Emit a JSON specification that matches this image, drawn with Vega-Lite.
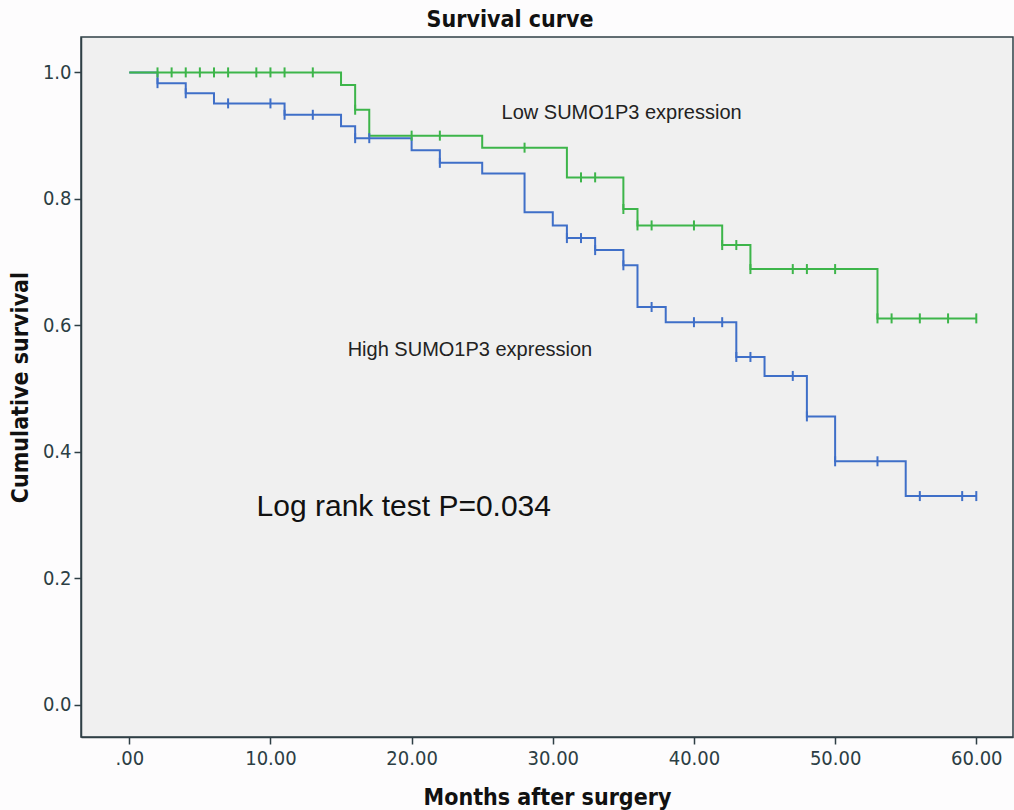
{
  "$schema": "https://vega.github.io/schema/vega-lite/v6.json",
  "width": 932,
  "height": 700,
  "autosize": {"type": "none"},
  "padding": {"left": 81, "top": 37, "right": 1, "bottom": 73},
  "background": "#fdfcfd",
  "title": {
    "text": "Survival curve",
    "font": "DejaVu Sans Condensed, Liberation Sans, sans-serif",
    "fontSize": 23,
    "fontWeight": "bold",
    "color": "#111111",
    "anchor": "middle",
    "dx": -37,
    "offset": 5
  },
  "config": {
    "view": {"fill": "#f0f0f0", "stroke": "#2f3f45", "strokeWidth": 1.5},
    "axis": {
      "grid": false,
      "domainColor": "#2f3f45",
      "domainWidth": 1.5,
      "tickColor": "#2f3f45",
      "tickWidth": 1.5,
      "tickSize": 7,
      "labelFont": "DejaVu Sans Condensed, Liberation Sans, sans-serif",
      "labelFontSize": 20,
      "labelColor": "#2c3e44",
      "titleFont": "DejaVu Sans Condensed, Liberation Sans, sans-serif",
      "titleFontSize": 23,
      "titleFontWeight": "bold",
      "titleColor": "#111111"
    }
  },
  "datasets": {
    "curve": [
      {"group": "High", "month": 0, "survival": 1.0},
      {"group": "High", "month": 2, "survival": 0.983},
      {"group": "High", "month": 4, "survival": 0.967},
      {"group": "High", "month": 6, "survival": 0.951},
      {"group": "High", "month": 11, "survival": 0.933},
      {"group": "High", "month": 15, "survival": 0.915},
      {"group": "High", "month": 16, "survival": 0.896},
      {"group": "High", "month": 20, "survival": 0.877},
      {"group": "High", "month": 22, "survival": 0.857},
      {"group": "High", "month": 25, "survival": 0.840},
      {"group": "High", "month": 28, "survival": 0.779},
      {"group": "High", "month": 30, "survival": 0.758},
      {"group": "High", "month": 31, "survival": 0.738},
      {"group": "High", "month": 33, "survival": 0.719},
      {"group": "High", "month": 35, "survival": 0.695},
      {"group": "High", "month": 36, "survival": 0.629},
      {"group": "High", "month": 38, "survival": 0.605},
      {"group": "High", "month": 43, "survival": 0.550},
      {"group": "High", "month": 45, "survival": 0.520},
      {"group": "High", "month": 48, "survival": 0.456},
      {"group": "High", "month": 50, "survival": 0.385},
      {"group": "High", "month": 55, "survival": 0.330},
      {"group": "High", "month": 60, "survival": 0.330},
      {"group": "Low", "month": 0, "survival": 1.0},
      {"group": "Low", "month": 15, "survival": 0.980},
      {"group": "Low", "month": 16, "survival": 0.941},
      {"group": "Low", "month": 17, "survival": 0.900},
      {"group": "Low", "month": 25, "survival": 0.881},
      {"group": "Low", "month": 31, "survival": 0.834},
      {"group": "Low", "month": 35, "survival": 0.784},
      {"group": "Low", "month": 36, "survival": 0.758},
      {"group": "Low", "month": 42, "survival": 0.727},
      {"group": "Low", "month": 44, "survival": 0.689},
      {"group": "Low", "month": 53, "survival": 0.611},
      {"group": "Low", "month": 60, "survival": 0.611}
    ],
    "censor": [
      {"group": "High", "month": 2, "survival": 0.983},
      {"group": "High", "month": 4, "survival": 0.967},
      {"group": "High", "month": 7, "survival": 0.951},
      {"group": "High", "month": 10, "survival": 0.951},
      {"group": "High", "month": 11, "survival": 0.933},
      {"group": "High", "month": 13, "survival": 0.933},
      {"group": "High", "month": 16, "survival": 0.896},
      {"group": "High", "month": 17, "survival": 0.896},
      {"group": "High", "month": 22, "survival": 0.857},
      {"group": "High", "month": 31, "survival": 0.738},
      {"group": "High", "month": 32, "survival": 0.738},
      {"group": "High", "month": 33, "survival": 0.719},
      {"group": "High", "month": 35, "survival": 0.695},
      {"group": "High", "month": 37, "survival": 0.629},
      {"group": "High", "month": 40, "survival": 0.605},
      {"group": "High", "month": 42, "survival": 0.605},
      {"group": "High", "month": 43, "survival": 0.550},
      {"group": "High", "month": 44, "survival": 0.550},
      {"group": "High", "month": 47, "survival": 0.520},
      {"group": "High", "month": 48, "survival": 0.456},
      {"group": "High", "month": 50, "survival": 0.385},
      {"group": "High", "month": 53, "survival": 0.385},
      {"group": "High", "month": 56, "survival": 0.330},
      {"group": "High", "month": 59, "survival": 0.330},
      {"group": "High", "month": 60, "survival": 0.330},
      {"group": "Low", "month": 2, "survival": 1.0},
      {"group": "Low", "month": 3, "survival": 1.0},
      {"group": "Low", "month": 4, "survival": 1.0},
      {"group": "Low", "month": 5, "survival": 1.0},
      {"group": "Low", "month": 6, "survival": 1.0},
      {"group": "Low", "month": 7, "survival": 1.0},
      {"group": "Low", "month": 9, "survival": 1.0},
      {"group": "Low", "month": 10, "survival": 1.0},
      {"group": "Low", "month": 11, "survival": 1.0},
      {"group": "Low", "month": 13, "survival": 1.0},
      {"group": "Low", "month": 16, "survival": 0.941},
      {"group": "Low", "month": 20, "survival": 0.900},
      {"group": "Low", "month": 22, "survival": 0.900},
      {"group": "Low", "month": 28, "survival": 0.881},
      {"group": "Low", "month": 32, "survival": 0.834},
      {"group": "Low", "month": 33, "survival": 0.834},
      {"group": "Low", "month": 35, "survival": 0.784},
      {"group": "Low", "month": 36, "survival": 0.758},
      {"group": "Low", "month": 37, "survival": 0.758},
      {"group": "Low", "month": 40, "survival": 0.758},
      {"group": "Low", "month": 42, "survival": 0.727},
      {"group": "Low", "month": 43, "survival": 0.727},
      {"group": "Low", "month": 44, "survival": 0.689},
      {"group": "Low", "month": 47, "survival": 0.689},
      {"group": "Low", "month": 48, "survival": 0.689},
      {"group": "Low", "month": 50, "survival": 0.689},
      {"group": "Low", "month": 53, "survival": 0.611},
      {"group": "Low", "month": 54, "survival": 0.611},
      {"group": "Low", "month": 56, "survival": 0.611},
      {"group": "Low", "month": 58, "survival": 0.611},
      {"group": "Low", "month": 60, "survival": 0.611}
    ],
    "notes": [
      {"label": "Low SUMO1P3 expression"},
      {"label": "High SUMO1P3 expression"},
      {"label": "Log rank test P=0.034"}
    ]
  },
  "layer": [
    {
      "data": {"name": "curve"},
      "mark": {"type": "line", "interpolate": "step-after", "strokeWidth": 2},
      "encoding": {
        "x": {
          "field": "month",
          "type": "quantitative",
          "scale": {"domain": [-3.42, 62.6], "nice": false, "zero": false},
          "axis": {
            "title": "Months after surgery",
            "values": [0, 10, 20, 30, 40, 50, 60],
            "labelExpr": "datum.value == 0 ? '.00' : format(datum.value, '.2f')",
            "labelPadding": 4,
            "titleY": 60,
            "titleBaseline": "middle"
          }
        },
        "y": {
          "field": "survival",
          "type": "quantitative",
          "scale": {"domain": [-0.051, 1.056], "nice": false, "zero": false},
          "axis": {
            "title": "Cumulative survival",
            "values": [0, 0.2, 0.4, 0.6, 0.8, 1.0],
            "format": ".1f",
            "labelPadding": 3,
            "titleX": -61,
            "titleY": 350,
            "titleAngle": 270,
            "titleAlign": "center",
            "titleBaseline": "middle"
          }
        },
        "color": {
          "field": "group",
          "type": "nominal",
          "scale": {"domain": ["High", "Low"], "range": ["#3f6fc8", "#3db54a"]},
          "legend": null
        },
        "order": {"field": "month", "type": "quantitative"}
      }
    },
    {
      "data": {"name": "censor"},
      "mark": {"type": "point", "shape": "M0,-1L0,1", "size": 100, "strokeWidth": 2, "filled": false, "opacity": 1},
      "encoding": {
        "x": {"field": "month", "type": "quantitative"},
        "y": {"field": "survival", "type": "quantitative"},
        "color": {"field": "group", "type": "nominal", "legend": null}
      }
    },
    {
      "data": {"name": "notes"},
      "transform": [{"filter": "datum.label == 'Low SUMO1P3 expression'"}],
      "mark": {"type": "text", "align": "left", "baseline": "middle", "font": "Liberation Sans", "fontSize": 20, "fill": "#222222"},
      "encoding": {
        "x": {"datum": 26.37, "type": "quantitative"},
        "y": {"datum": 0.936, "type": "quantitative"},
        "text": {"field": "label", "type": "nominal"}
      }
    },
    {
      "data": {"name": "notes"},
      "transform": [{"filter": "datum.label == 'High SUMO1P3 expression'"}],
      "mark": {"type": "text", "align": "left", "baseline": "middle", "font": "Liberation Sans", "fontSize": 20, "fill": "#222222"},
      "encoding": {
        "x": {"datum": 15.47, "type": "quantitative"},
        "y": {"datum": 0.561, "type": "quantitative"},
        "text": {"field": "label", "type": "nominal"}
      }
    },
    {
      "data": {"name": "notes"},
      "transform": [{"filter": "datum.label == 'Log rank test P=0.034'"}],
      "mark": {"type": "text", "align": "left", "baseline": "middle", "font": "Liberation Sans", "fontSize": 30, "fill": "#111111"},
      "encoding": {
        "x": {"datum": 9.02, "type": "quantitative"},
        "y": {"datum": 0.313, "type": "quantitative"},
        "text": {"field": "label", "type": "nominal"}
      }
    }
  ]
}
